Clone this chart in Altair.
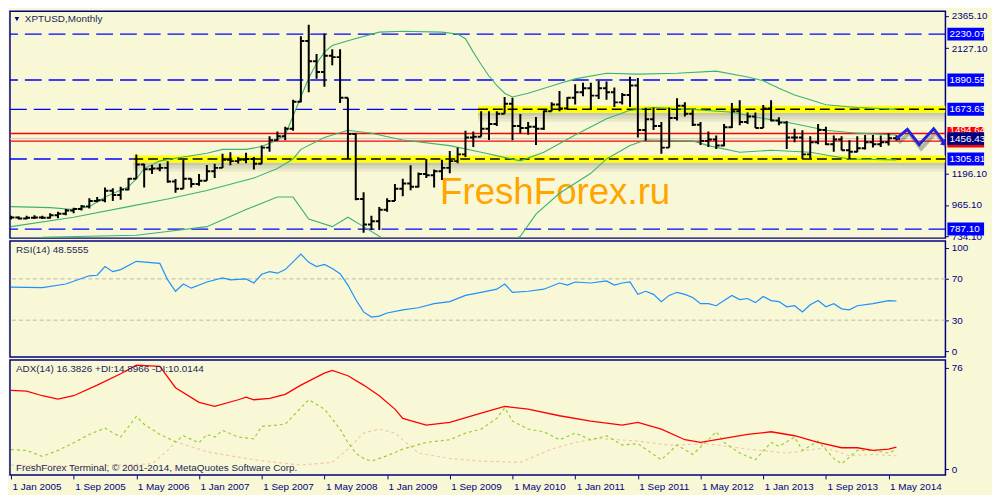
import json
import altair as alt
import pandas as pd

# ---------------- data ----------------
date_labels = ["1 Jan 2005", "1 Sep 2005", "1 May 2006", "1 Jan 2007", "1 Sep 2007",
               "1 May 2008", "1 Jan 2009", "1 Sep 2009", "1 May 2010", "1 Jan 2011",
               "1 Sep 2011", "1 May 2012", "1 Jan 2013", "1 Sep 2013", "1 May 2014"]
label_step = 8  # months between date labels

opens = [868, 872, 866, 870, 872, 870, 890, 900, 925, 935, 955, 995, 1000, 1070, 1040, 1080,
         1160, 1265, 1230, 1235, 1240, 1140, 1085, 1160, 1120, 1145, 1215, 1240, 1300, 1290,
         1300, 1305, 1270, 1390, 1445, 1475, 1530, 1730, 2180, 2030, 1950, 2070, 2060, 1760,
         1490, 1010, 820, 845, 930, 995, 1085, 1125, 1100, 1195, 1185, 1215, 1240, 1290, 1340,
         1465, 1470, 1530, 1565, 1640, 1715, 1550, 1535, 1545, 1530, 1660, 1710, 1680, 1760,
         1800, 1830, 1775, 1830, 1800, 1725, 1780, 1850, 1520, 1600, 1550, 1390, 1610, 1700,
         1640, 1560, 1440, 1450, 1405, 1540, 1660, 1580, 1620, 1535, 1680, 1590, 1575, 1465,
         1465, 1340, 1430, 1520, 1415, 1450, 1370, 1360, 1385, 1430, 1415, 1430, 1460]
highs = [885, 880, 885, 890, 885, 905, 915, 935, 945, 965, 1015, 1025, 1094, 1090, 1100, 1165,
         1340, 1270, 1262, 1270, 1290, 1158, 1300, 1162, 1195, 1262, 1270, 1345, 1355, 1318,
         1352, 1320, 1405, 1475, 1510, 1545, 1744, 2215, 2300, 2083, 2235, 2118, 2118, 1760,
         1497, 1060, 885, 950, 1015, 1120, 1160, 1260, 1205, 1305, 1228, 1300, 1365, 1390, 1515,
         1510, 1660, 1660, 1660, 1765, 1760, 1638, 1580, 1617, 1665, 1725, 1810, 1765, 1860,
         1870, 1870, 1885, 1880, 1835, 1795, 1915, 1905, 1685, 1685, 1580, 1685, 1755, 1725,
         1672, 1580, 1510, 1480, 1565, 1720, 1740, 1650, 1650, 1705, 1740, 1615, 1588, 1530,
         1518, 1475, 1565, 1545, 1480, 1475, 1445, 1475, 1483, 1483, 1480, 1495, 1482]
lows = [858, 858, 860, 862, 862, 865, 868, 890, 905, 925, 940, 985, 985, 995, 1005, 1075,
        1160, 1095, 1195, 1215, 1130, 1055, 1085, 1095, 1108, 1144, 1165, 1240, 1260, 1272,
        1275, 1228, 1270, 1360, 1440, 1445, 1515, 1725, 1800, 1900, 1840, 2000, 1720, 1306,
        1000, 760, 780, 780, 915, 995, 1030, 1075, 1095, 1165, 1095, 1150, 1200, 1275, 1320,
        1395, 1470, 1447, 1550, 1640, 1445, 1495, 1485, 1410, 1520, 1660, 1660, 1673, 1710,
        1770, 1675, 1750, 1745, 1690, 1710, 1690, 1465, 1440, 1520, 1345, 1390, 1590, 1620,
        1550, 1410, 1395, 1380, 1400, 1535, 1555, 1565, 1535, 1535, 1585, 1555, 1380, 1430,
        1306, 1310, 1415, 1410, 1360, 1370, 1306, 1356, 1377, 1391, 1395, 1405, 1440]
closes = [872, 866, 870, 872, 870, 890, 900, 925, 935, 955, 995, 1000, 1070, 1040, 1080, 1160,
          1265, 1230, 1235, 1240, 1140, 1085, 1160, 1120, 1145, 1215, 1240, 1300, 1290, 1300,
          1305, 1270, 1390, 1445, 1475, 1530, 1730, 2180, 2030, 1950, 2070, 2060, 1760, 1490,
          1010, 820, 845, 930, 995, 1085, 1125, 1100, 1195, 1185, 1215, 1240, 1290, 1340, 1465,
          1470, 1530, 1565, 1640, 1715, 1550, 1535, 1545, 1530, 1660, 1710, 1680, 1760, 1800,
          1830, 1775, 1830, 1800, 1725, 1780, 1850, 1520, 1600, 1550, 1390, 1610, 1700, 1640,
          1560, 1440, 1450, 1405, 1540, 1660, 1580, 1620, 1535, 1680, 1590, 1575, 1465, 1465,
          1340, 1430, 1520, 1415, 1450, 1370, 1360, 1385, 1430, 1415, 1430, 1460, 1456.43]

bb_upper_idx = [0, 5, 8, 10, 12, 15, 16, 17, 19, 22, 25, 27, 30, 32, 34, 35, 36, 37, 38, 39,
                40, 41, 43, 47, 50, 55, 57, 58, 59, 60, 61, 62, 63, 64, 66, 70, 72, 76, 80, 85,
                90, 94, 96, 98, 100, 102, 104, 108, 113]
bb_upper_val = [953, 946, 932, 953, 1024, 1101, 1158, 1235, 1292, 1320, 1348, 1377, 1377, 1398,
                1447, 1483, 1624, 1765, 1906, 2012, 2097, 2146, 2181, 2245, 2252, 2245, 2231,
                2196, 2097, 2005, 1920, 1850, 1793, 1765, 1793, 1864, 1899, 1941, 1934, 1941,
                1956, 1913, 1885, 1829, 1779, 1744, 1708, 1687, 1673]
bb_mid_idx = [0, 8, 15, 20, 25, 31, 34, 36, 37, 40, 43, 46, 50, 56, 60, 65, 68, 72, 76, 79,
              82, 87, 92, 95, 100, 104, 108, 113]
bb_mid_val = [805, 875, 953, 1010, 1073, 1165, 1235, 1306, 1377, 1465, 1518, 1497, 1447, 1405,
              1356, 1292, 1356, 1483, 1603, 1666, 1687, 1673, 1652, 1617, 1567, 1518, 1497, 1483]
bb_low_idx = [0, 4, 10, 16, 20, 25, 30, 34, 36, 38, 41, 43, 45, 47, 50, 56, 62, 65, 67, 70,
              74, 76, 79, 81, 87, 89, 93, 97, 102, 107, 113]
bb_low_val = [649, 727, 734, 741, 769, 805, 932, 1024, 1024, 861, 805, 875, 805, 734, 635, 593,
              649, 734, 897, 1052, 1200, 1306, 1405, 1447, 1440, 1405, 1356, 1370, 1356, 1306, 1299]

rsi_idx = [0, 4, 7, 10, 11, 12, 13, 14, 16, 19, 20, 21, 22, 23, 25, 27, 28, 30, 31, 32,
           33, 34, 35, 37, 38, 39, 40, 41, 42, 43, 44, 45, 46, 47, 48, 50, 52, 54, 56, 58,
           60, 62, 63, 64, 66, 68, 70, 71, 72, 74, 76, 77, 78, 79, 80, 81, 82, 83, 84, 85,
           86, 87, 88, 89, 90, 91, 92, 93, 94, 95, 96, 97, 98, 99, 100, 101, 102, 103, 104, 105,
           106, 107, 108, 110, 112, 113]
rsi_val = [62, 61.5, 65, 73, 73.5, 82, 77, 79, 87, 85, 69, 58, 65, 61, 67, 71, 69, 70, 66, 74.5,
           77, 75.5, 79, 94, 86, 82, 84, 80, 75, 64, 50, 38, 33, 34, 37, 40, 42, 46, 48, 54,
           57, 60, 65, 57, 58, 60, 66, 64, 67, 66, 68, 64, 66, 67, 55, 58, 55, 48, 54, 57,
           55, 52, 46, 46, 44, 49, 54, 50, 51, 47, 53, 49, 48, 43, 44, 38, 45, 49, 43, 46,
           41, 40, 44, 46, 49, 48.56]

adx_idx = [0, 2, 4, 6, 8, 11, 14, 16, 19, 21, 24, 26, 29, 30, 31, 33, 35, 37, 40, 41,
           43, 45, 47, 49, 50, 53, 56, 60, 63, 66, 70, 74, 78, 80, 83, 86, 88, 91, 94, 97,
           100, 103, 106, 108, 110, 112, 113]
adx_val = [59, 58.5, 55, 52.5, 55, 63, 71.5, 78, 77, 61, 50, 47, 52, 54, 52, 53, 56, 63, 72, 74,
           70, 63, 55, 45, 38, 33, 35, 42, 47, 45, 40, 36, 33, 35, 30, 22, 20, 23, 26, 28,
           25, 20, 16, 16, 14, 15, 16.38]
pdi_idx = [0, 2, 4, 6, 8, 10, 12, 14, 16, 17, 19, 21, 22, 24, 25, 26, 27, 29, 31, 32,
           35, 37, 38, 40, 42, 43, 44, 45, 46, 47, 48, 50, 53, 56, 58, 60, 62, 63, 64, 66,
           68, 70, 72, 74, 76, 78, 80, 81, 83, 85, 87, 89, 90, 91, 93, 95, 97, 98, 100, 101,
           103, 105, 106, 108, 110, 112, 113]
pdi_val = [14.6, 14, 9.5, 14, 19.7, 26, 30.7, 24, 39.5, 33.6, 26, 20.5, 25, 19.7, 26, 24, 29, 24, 22.7, 32,
           33.6, 46, 52, 45, 30, 20, 12, 8, 6, 8, 10, 15, 20, 22, 27, 30, 38, 46, 36, 30,
           28, 22, 27, 22, 25, 18, 19, 15, 7, 18, 11, 22, 28, 20, 12, 7, 20, 17, 24, 14,
           21, 8, 4, 14, 14, 12, 14.9]
mdi_idx = [0, 10, 18, 20, 21, 25, 31, 37, 41, 43, 45, 47, 49, 52, 56, 60, 65, 69, 72, 75,
           80, 84, 89, 94, 99, 104, 107, 110, 113]
mdi_val = [3, 2, 4, 14, 20.5, 13, 7, 3, 5, 15, 27, 30, 27, 12, 8, 6, 5, 15, 20, 23,
           21, 18, 19, 15, 12, 16, 10, 11, 10.01]

forecast_idx = [113, 114.4, 115.9, 117.75, 119.2]
forecast_val = [1456.43, 1525, 1412, 1530, 1420]

blue_full_levels = [2230.07, 1890.55, 787.10]
blue_part_levels = [1673.63, 1305.81]
zone_levels = [1673.63, 1305.81]
zone_start = [59.6, 15.6]
red_levels = [1494.64, 1438.49]
current_price = 1456.43
price_axis_values = [2365.10, 2127.10, 1196.10, 965.10, 734.10]

# ---------------- layout / style ----------------
W, H1, H2, H3 = 944, 229, 117, 116
XMIN, XMAX = -0.125, 119.25
BG = "#F8F8D6"
NAVY = "#000080"
FONT = "Liberation Sans"
GREEN = "#3CB371"

xs = alt.Scale(domain=[XMIN, XMAX], nice=False, zero=False)
ps = alt.Scale(domain=[720, 2400], nice=False, zero=False)
rs = alt.Scale(domain=[-5.7, 106.6], nice=False, zero=False)
ads = alt.Scale(domain=[-4.4, 81.8], nice=False, zero=False)

price_axis = alt.Axis(orient="right", values=price_axis_values, format=".2f", title=None,
                      tickSize=3, labelPadding=3, domain=False, grid=False, labelFlush=False)
rsi_axis = alt.Axis(orient="right", values=[0, 30, 70, 100], format="d", title=None,
                    tickSize=3, labelPadding=3, domain=False, grid=False, labelFlush=False)
adx_axis = alt.Axis(orient="right", values=[0, 76], format="d", title=None,
                    tickSize=3, labelPadding=3, domain=False, grid=False, labelFlush=False)
x_axis = alt.Axis(orient="bottom", values=list(range(0, 113, label_step)),
                  labelExpr=f"{json.dumps(date_labels)}[round(datum.value / {label_step})]",
                  labelAlign="left", labelPadding=3, tickSize=4, title=None, domain=False,
                  grid=False, labelFlush=False, labelOverlap=False, labelOffset=1)


def X(f):
    return alt.X(f, type="quantitative", scale=xs, axis=None)


def XA(f):
    return alt.X(f, type="quantitative", scale=xs, axis=x_axis)


def PY(f):
    return alt.Y(f, type="quantitative", scale=ps, axis=price_axis)


def RY(f):
    return alt.Y(f, type="quantitative", scale=rs, axis=rsi_axis)


def AY(f):
    return alt.Y(f, type="quantitative", scale=ads, axis=adx_axis)


def label(text, x, y, size=10, color="#1E1E5A", align="left", font=FONT):
    return alt.Chart(pd.DataFrame({"t": [text]})).mark_text(
        align=align, baseline="middle", font=font, fontSize=size, color=color
    ).encode(x=alt.value(x), y=alt.value(y), text="t:N")


# ---------------- price panel ----------------
ohlc = pd.DataFrame({"idx": list(range(len(opens))), "o": opens, "h": highs, "l": lows, "c": closes})
zones = pd.DataFrame({"level": zone_levels, "start": zone_start, "end": [XMAX] * len(zone_levels)})
blue_full = pd.DataFrame({"level": blue_full_levels})
blue_part = pd.DataFrame({"level": blue_part_levels, "start": [XMIN] * 2, "end": zone_start})
reds = pd.DataFrame({"level": red_levels})
bb = pd.concat([
    pd.DataFrame({"idx": bb_upper_idx, "val": bb_upper_val, "band": "upper"}),
    pd.DataFrame({"idx": bb_mid_idx, "val": bb_mid_val, "band": "mid"}),
    pd.DataFrame({"idx": bb_low_idx, "val": bb_low_val, "band": "low"}),
])
fc = pd.DataFrame({"idx": forecast_idx, "val": forecast_val})

layers = []
layers.append(label("FreshForex.ru", 434, 184, size=37, color="#FFA500"))
for off, op in [(5, 0.35), (8, 0.22), (11, 0.1)]:
    layers.append(alt.Chart(zones).mark_rule(color="#707060", strokeWidth=3, opacity=op, yOffset=off, clip=True)
                  .encode(x=X("start"), x2="end", y=PY("level")))
layers.append(alt.Chart(zones).mark_rule(color="#FFFF00", strokeWidth=7, clip=True)
              .encode(x=X("start"), x2="end", y=PY("level")))
layers.append(alt.Chart(zones).mark_rule(color="black", strokeWidth=1.5, strokeDash=[10, 5], clip=True)
              .encode(x=X("start"), x2="end", y=PY("level")))
layers.append(alt.Chart(blue_full).mark_rule(color="#0000FF", strokeWidth=1.3, strokeDash=[17, 7])
              .encode(y=PY("level")))
layers.append(alt.Chart(blue_part).mark_rule(color="#0000FF", strokeWidth=1.3, strokeDash=[17, 7], clip=True)
              .encode(x=X("start"), x2="end", y=PY("level")))
layers.append(alt.Chart(reds).mark_rule(color="#FF0000", strokeWidth=1.3).encode(y=PY("level")))
layers.append(alt.Chart(pd.DataFrame({"level": [current_price]}))
              .mark_rule(color="#C8C8C0", strokeWidth=1).encode(y=PY("level")))
layers.append(alt.Chart(bb).mark_line(color=GREEN, strokeWidth=1.1, clip=True)
              .encode(x=X("idx"), y=PY("val"), detail="band:N", order="idx:Q"))
layers.append(alt.Chart(ohlc).mark_rule(color="black", strokeWidth=2, clip=True)
              .encode(x=X("idx"), y=PY("l"), y2="h"))
layers.append(alt.Chart(ohlc).mark_rule(color="black", strokeWidth=2, xOffset=-3.5, x2Offset=0, clip=True)
              .encode(x=X("idx"), x2="idx", y=PY("o")))
layers.append(alt.Chart(ohlc).mark_rule(color="black", strokeWidth=2, xOffset=0, x2Offset=3.5, clip=True)
              .encode(x=X("idx"), x2="idx", y=PY("c")))
layers.append(alt.Chart(fc).mark_line(color="#404040", opacity=0.35, strokeWidth=4, xOffset=2, yOffset=4, clip=True)
              .encode(x=X("idx"), y=PY("val")))
layers.append(alt.Chart(fc).mark_line(color="#2222D8", strokeWidth=3, clip=True)
              .encode(x=X("idx"), y=PY("val")))
layers.append(alt.Chart(fc.tail(1)).mark_point(shape="triangle-right", filled=True, size=60,
                                               color="#2222D8", opacity=1, angle=35, clip=True)
              .encode(x=X("idx"), y=PY("val")))

red_boxes = pd.DataFrame({"price": red_levels})
red_text = pd.DataFrame({"price": [red_levels[0]], "t": ["1494.64"]})
boxes = pd.DataFrame({
    "price": blue_full_levels[:2] + blue_part_levels + blue_full_levels[2:] + [current_price],
    "t": ["2230.07", "1890.55", "1673.63", "1305.81", "787.10", "1456.43"],
    "col": ["#0000FF"] * 5 + [NAVY],
})
layers.append(alt.Chart(red_boxes).mark_rule(color="#FF0000", strokeWidth=13, strokeCap="butt")
              .encode(x=alt.value(W + 2), x2=alt.value(W + 39), y=PY("price")))
layers.append(alt.Chart(red_text).mark_text(align="left", baseline="middle", font=FONT, fontSize=10,
                                            color="white", dy=-3)
              .encode(x=alt.value(W + 4), y=PY("price"), text="t:N"))
layers.append(alt.Chart(boxes).mark_rule(strokeWidth=13, strokeCap="butt")
              .encode(x=alt.value(W + 2), x2=alt.value(W + 39), y=PY("price"),
                      color=alt.Color("col:N", scale=None)))
layers.append(alt.Chart(boxes).mark_text(align="left", baseline="middle", font=FONT, fontSize=10, color="white")
              .encode(x=alt.value(W + 4), y=PY("price"), text="t:N"))
layers.append(alt.Chart(pd.DataFrame({"a": [0]})).mark_point(shape="triangle-down", filled=True, size=22,
                                                             color=NAVY, opacity=1)
              .encode(x=alt.value(7), y=alt.value(8)))
layers.append(label("XPTUSD,Monthly", 15, 8))

price = alt.layer(*layers).properties(width=W, height=H1)

# ---------------- RSI panel ----------------
rsi_df = pd.DataFrame({"idx": rsi_idx, "val": rsi_val})
rsi = alt.layer(
    alt.Chart(pd.DataFrame({"level": [70, 30]})).mark_rule(color="#B8B8B8", strokeWidth=1, strokeDash=[4, 3])
    .encode(y=RY("level")),
    alt.Chart(rsi_df).mark_line(color="#1E90FF", strokeWidth=1.2, clip=True).encode(x=X("idx"), y=RY("val")),
    label("RSI(14) 48.5555", 6, 9),
).properties(width=W, height=H2)

# ---------------- ADX panel ----------------
adx_df = pd.DataFrame({"idx": adx_idx, "val": adx_val})
pdi_df = pd.DataFrame({"idx": pdi_idx, "val": pdi_val})
mdi_df = pd.DataFrame({"idx": mdi_idx, "val": mdi_val})
adx = alt.layer(
    alt.Chart(mdi_df).mark_line(color="#F2C8A8", strokeWidth=1.2, strokeDash=[3, 3], clip=True)
    .encode(x=XA("idx"), y=AY("val")),
    alt.Chart(pdi_df).mark_line(color="#9ACD32", strokeWidth=1.2, strokeDash=[3, 3], clip=True)
    .encode(x=XA("idx"), y=AY("val")),
    alt.Chart(adx_df).mark_line(color="#FF0000", strokeWidth=1.3, clip=True)
    .encode(x=XA("idx"), y=AY("val")),
    label("ADX(14) 16.3826 +DI:14.8966 -DI:10.0144", 6, 9),
    label("FreshForex Terminal, \u00a9 2001-2014, MetaQuotes Software Corp.", 6, 109),
).properties(width=W, height=H3)

chart = alt.vconcat(price, rsi, adx, spacing=3, bounds="flush").properties(
    padding=0, background=BG
).configure_view(
    fill=BG, stroke=NAVY, strokeWidth=1.5
).configure_axis(
    labelFont=FONT, labelFontSize=10, labelColor=NAVY, tickColor=NAVY
)

chart.save("out.html", embed_options={"renderer": "svg", "actions": False})
